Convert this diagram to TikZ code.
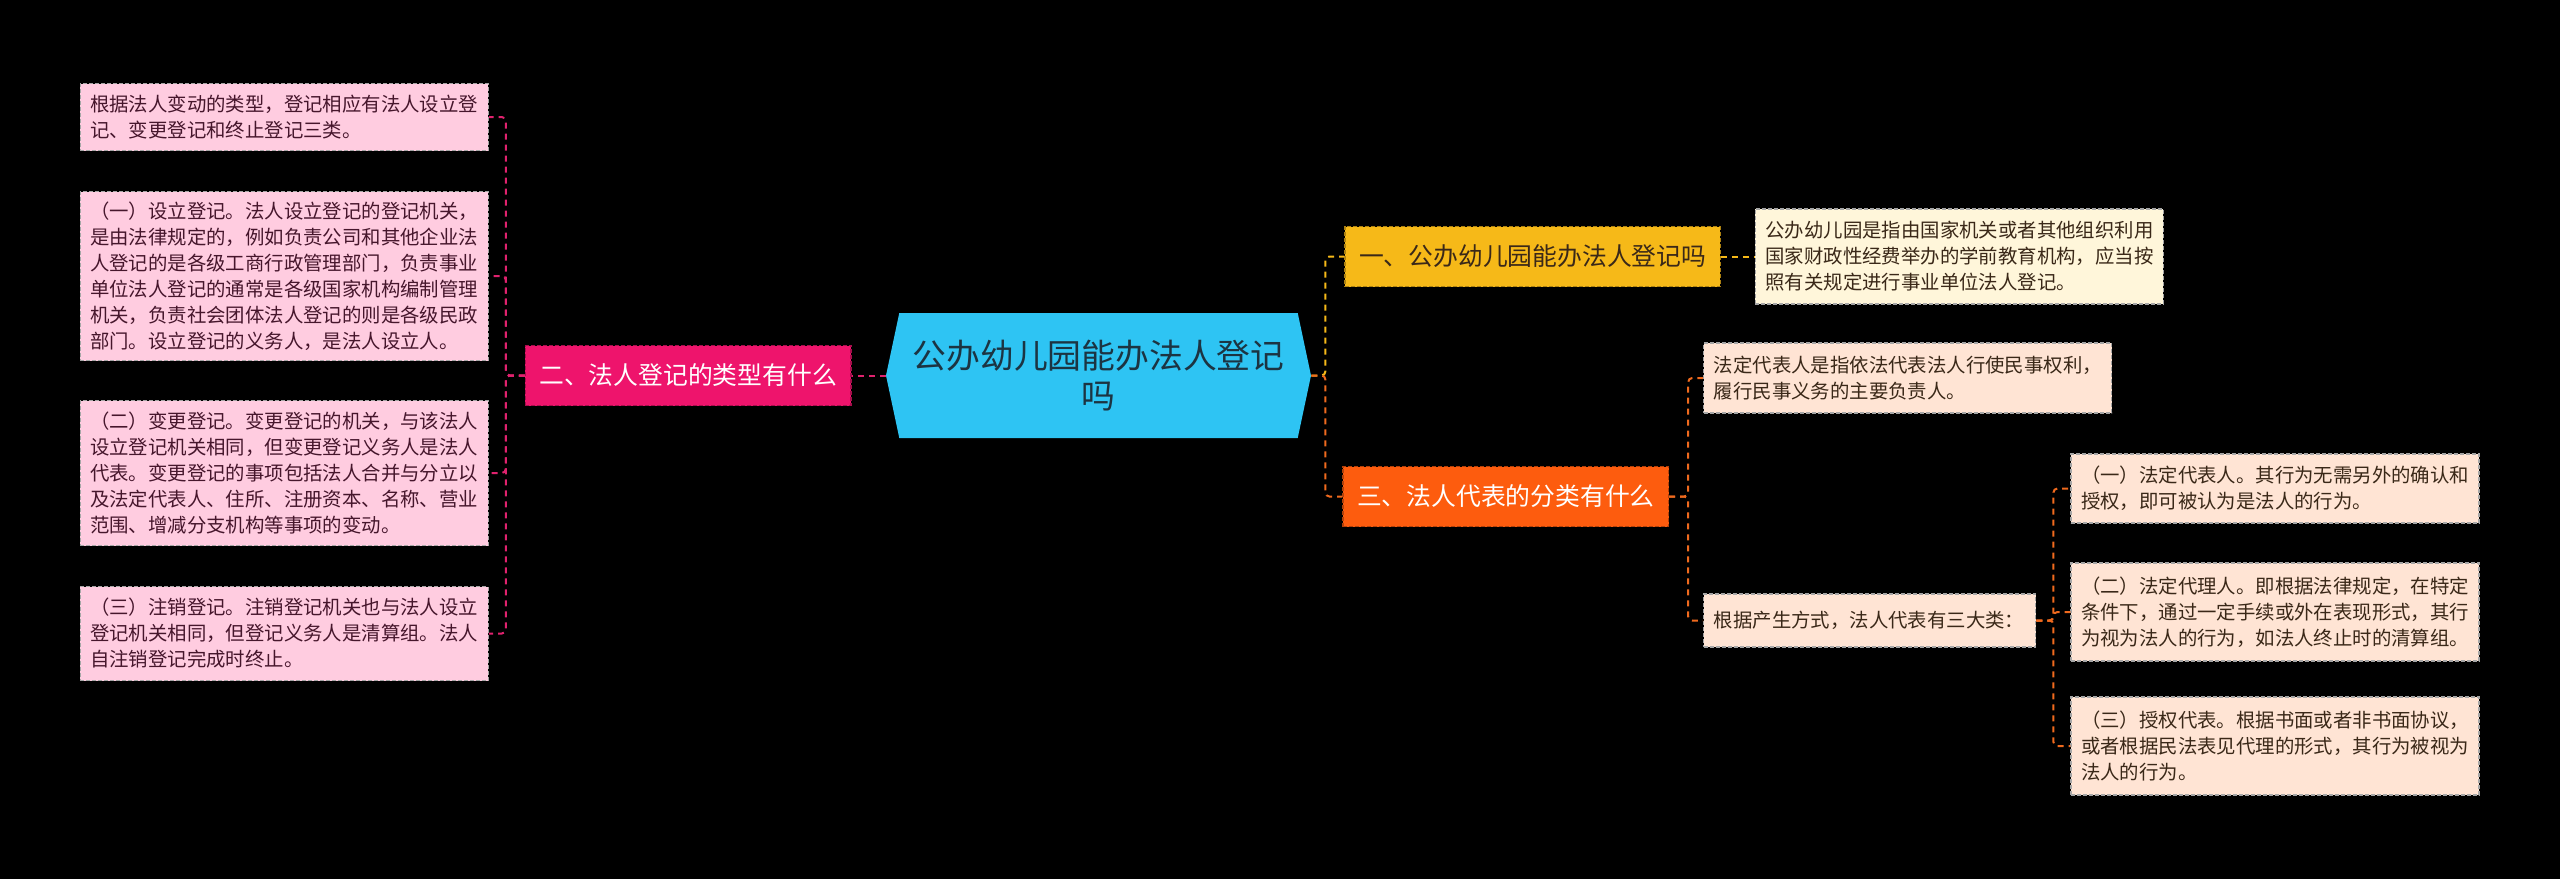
\documentclass[tikz,border=0pt]{standalone}
\usepackage{fontspec}
\setmainfont{Noto Sans CJK SC}
\usepackage{tikz}
\usetikzlibrary{positioning, shapes.symbols}
\definecolor{RootBlue}{RGB}{46,196,243}
\definecolor{RootText}{RGB}{28,52,66}
\definecolor{PinkTopic}{RGB}{238,20,108}
\definecolor{PinkLeaf}{RGB}{255,204,224}
\definecolor{PinkText}{RGB}{70,22,44}
\definecolor{YellowTopic}{RGB}{246,185,24}
\definecolor{CreamLeaf}{RGB}{255,246,218}
\definecolor{OrangeTopic}{RGB}{253,92,14}
\definecolor{PeachLeaf}{RGB}{255,228,212}
\definecolor{BrownText}{RGB}{58,40,24}
\definecolor{PinkLink}{RGB}{224,34,110}
\definecolor{OrangeLink}{RGB}{240,106,30}

\begin{document}
\begin{tikzpicture}[
  rootbox/.style={signal, signal to=east and west, signal pointer angle=156,
                  fill=RootBlue, text=RootText, minimum width=212.5pt,
                  minimum height=62.5pt, inner sep=0pt, align=center,
                  font=\fontsize{16.9pt}{20.4pt}\selectfont},
  topic/.style={dash pattern=on 2pt off 1pt, line width=0.6pt,
                minimum height=30pt, inner xsep=7pt,
                font=\fontsize{12.4pt}{15pt}\selectfont},
  pinktopic/.style={topic, fill=PinkTopic, draw=PinkTopic!70!black, text=white},
  yellowtopic/.style={topic, fill=YellowTopic, draw=YellowTopic!70!black, text=BrownText},
  orangetopic/.style={topic, fill=OrangeTopic, draw=OrangeTopic!70!black, text=white},
  leaf/.style={draw=black!35, dash pattern=on 2pt off 1pt, line width=0.6pt,
               text width=194pt, align=left, inner xsep=5pt, inner ysep=4pt,
               font=\fontsize{9.7pt}{13pt}\selectfont},
  pinkleaf/.style={leaf, fill=PinkLeaf, text=PinkText},
  creamleaf/.style={leaf, fill=CreamLeaf, text=BrownText},
  peachleaf/.style={leaf, fill=PeachLeaf, text=BrownText},
  link/.style={line width=1pt, dash pattern=on 3pt off 2.5pt, rounded corners=2pt},
]
\fill[black] (0,0) rectangle (1280pt,-439.5pt);
\useasboundingbox (0,0) rectangle (1280pt,-439.5pt);

\node[rootbox] (root) at (549.25pt,-187.75pt) {公办幼儿园能办法人登记\\吗};

\node[pinktopic,   left=17pt of root]                  (types)  {二、法人登记的类型有什么};
\node[yellowtopic, right=16.5pt of root, yshift=59.5pt] (can)    {一、公办幼儿园能办法人登记吗};
\node[orangetopic, right=15.5pt of root, yshift=-60.5pt] (kinds) {三、法人代表的分类有什么};

\node[pinkleaf, left=18pt of types, yshift=129.25pt, minimum height=33.5pt] (byChange) {根据法人变动的类型，登记相应有法人设立登\\记、变更登记和终止登记三类。};
\node[pinkleaf, left=18pt of types, yshift=49.75pt, minimum height=84.5pt] (setup) {（一）设立登记。法人设立登记的登记机关，\\是由法律规定的，例如负责公司和其他企业法\\人登记的是各级工商行政管理部门，负责事业\\单位法人登记的通常是各级国家机构编制管理\\机关，负责社会团体法人登记的则是各级民政\\部门。设立登记的义务人，是法人设立人。};
\node[pinkleaf, left=18pt of types, yshift=-48.75pt, minimum height=72.5pt] (alter) {（二）变更登记。变更登记的机关，与该法人\\设立登记机关相同，但变更登记义务人是法人\\代表。变更登记的事项包括法人合并与分立以\\及法定代表人、住所、注册资本、名称、营业\\范围、增减分支机构等事项的变动。};
\node[pinkleaf, left=18pt of types, yshift=-129pt, minimum height=47pt] (cancel) {（三）注销登记。注销登记机关也与法人设立\\登记机关相同，但登记义务人是清算组。法人\\自注销登记完成时终止。};

\node[creamleaf, right=17pt of can, minimum height=47.5pt] (public) {公办幼儿园是指由国家机关或者其他组织利用\\国家财政性经费举办的学前教育机构，应当按\\照有关规定进行事业单位法人登记。};

\node[peachleaf, right=17pt of kinds, yshift=59.25pt, minimum height=35pt] (define) {法定代表人是指依法代表法人行使民事权利，\\履行民事义务的主要负责人。};
\node[peachleaf, right=17pt of kinds, yshift=-62pt, minimum height=26.5pt, text width=156pt] (three) {根据产生方式，法人代表有三大类：};

\node[peachleaf, right=17pt of three, yshift=66pt, minimum height=34.5pt] (legal) {（一）法定代表人。其行为无需另外的确认和\\授权，即可被认为是法人的行为。};
\node[peachleaf, right=17pt of three, yshift=4.25pt, minimum height=49pt] (agent) {（二）法定代理人。即根据法律规定，在特定\\条件下，通过一定手续或外在表现形式，其行\\为视为法人的行为，如法人终止时的清算组。};
\node[peachleaf, right=17pt of three, yshift=-62.75pt, minimum height=49pt] (auth) {（三）授权代表。根据书面或者非书面协议，\\或者根据民法表见代理的形式，其行为被视为\\法人的行为。};

\draw[link, PinkLink] (root.west) -- (types.east);
\draw[link, PinkLink] (types.west) -- ++(-9.5pt,0) |- (byChange.east);
\draw[link, PinkLink] (types.west) -- ++(-9.5pt,0) |- (setup.east);
\draw[link, PinkLink] (types.west) -- ++(-9.5pt,0) |- (alter.east);
\draw[link, PinkLink] (types.west) -- ++(-9.5pt,0) |- (cancel.east);

\draw[link, YellowTopic] (root.east) -- ++(7pt,0) |- (can.west);
\draw[link, OrangeLink]  (root.east) -- ++(7pt,0) |- (kinds.west);
\draw[link, YellowTopic] (can.east) -- (public.west);

\draw[link, OrangeLink] (kinds.east) -- ++(9.5pt,0) |- (define.west);
\draw[link, OrangeLink] (kinds.east) -- ++(9.5pt,0) |- (three.west);
\draw[link, OrangeLink] (three.east) -- ++(8.5pt,0) |- (legal.west);
\draw[link, OrangeLink] (three.east) -- ++(8.5pt,0) |- (agent.west);
\draw[link, OrangeLink] (three.east) -- ++(8.5pt,0) |- (auth.west);
\end{tikzpicture}
\end{document}
